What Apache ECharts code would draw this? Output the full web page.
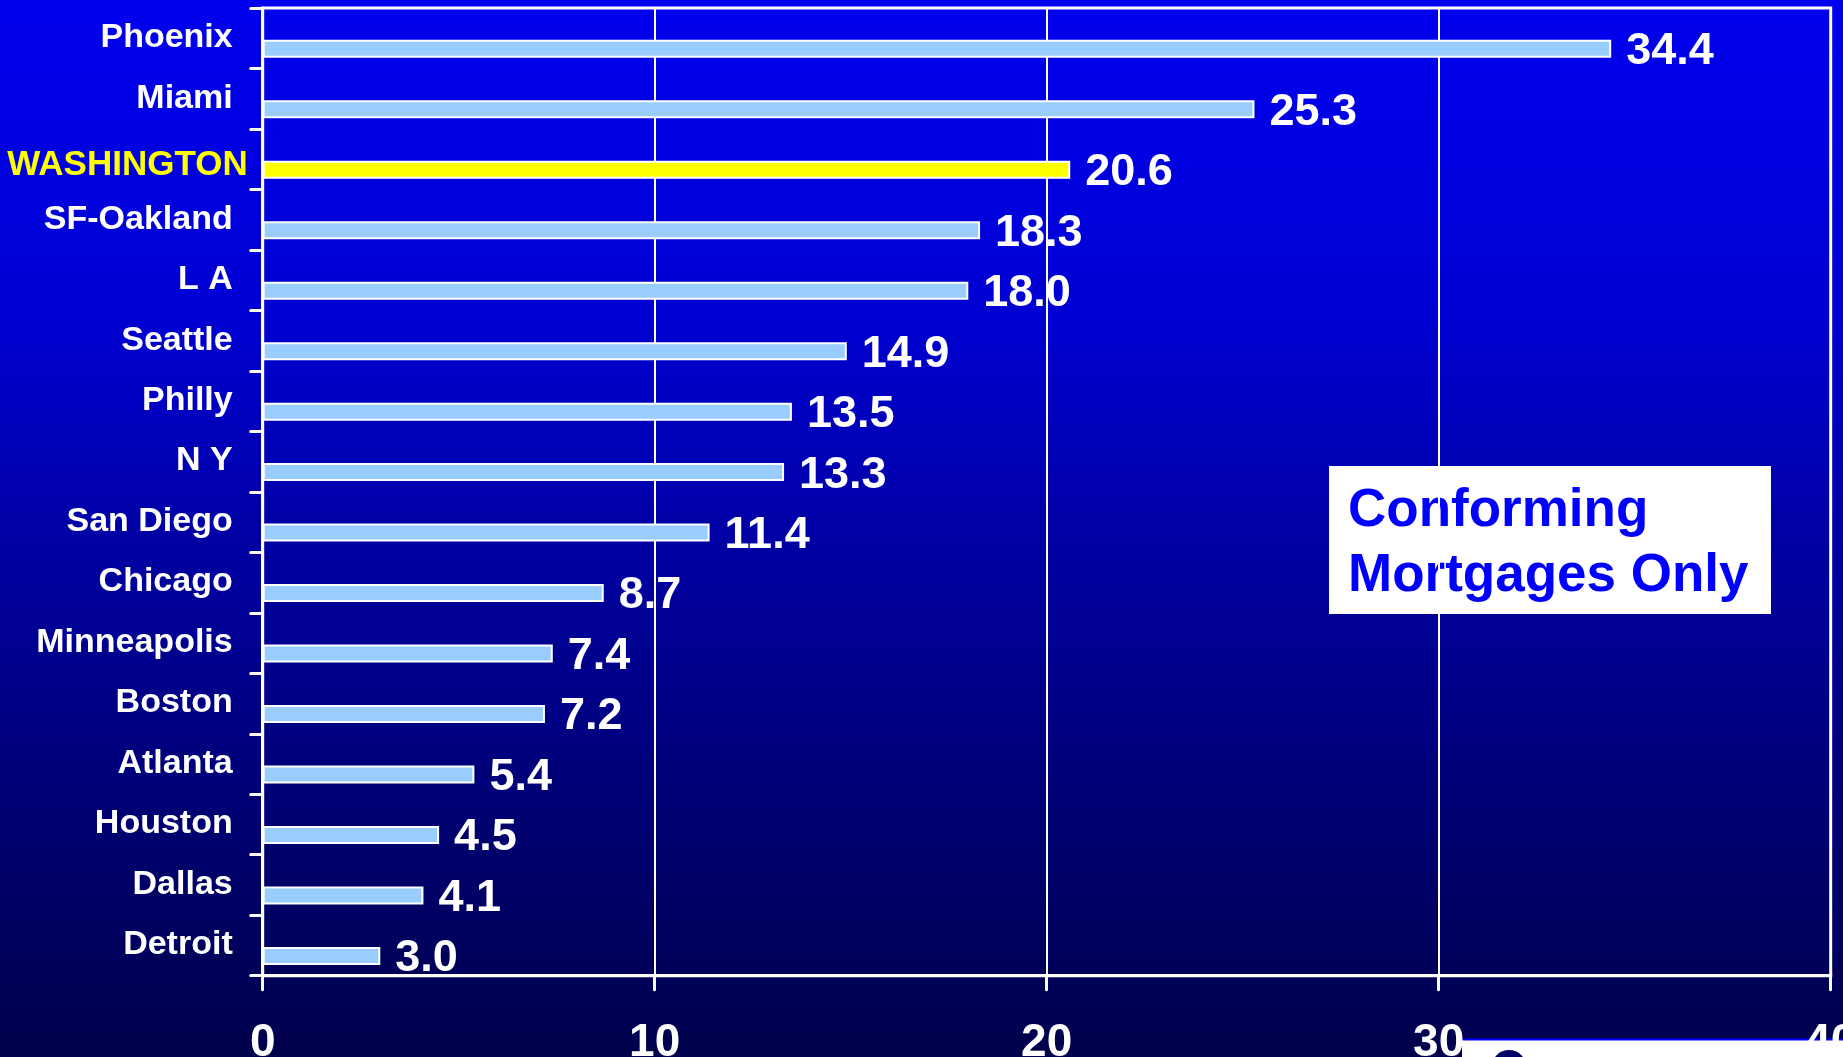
<!DOCTYPE html>
<html>
<head>
<meta charset="utf-8">
<title>Conforming Mortgages by Metro Area</title>
<script src="https://cdn.jsdelivr.net/npm/echarts@6/dist/echarts.min.js"></script>
<style>
  html, body { margin: 0; padding: 0; background: #000050; }
  #chart { width: 1843px; height: 1057px; }
</style>
</head>
<body>
<div id="chart"></div>
<script>
// Metro areas, top to bottom
const cities = ['Phoenix', 'Miami', 'WASHINGTON', 'SF-Oakland', 'L A', 'Seattle', 'Philly', 'N Y',
  'San Diego', 'Chicago', 'Minneapolis', 'Boston', 'Atlanta', 'Houston', 'Dallas', 'Detroit'];
// Value per metro area
const values = [34.4, 25.3, 20.6, 18.3, 18.0, 14.9, 13.5, 13.3, 11.4, 8.7, 7.4, 7.2, 5.4, 4.5, 4.1, 3.0];
// Value axis ticks
const xTicks = [0, 10, 20, 30, 40];
const highlightCity = 'WASHINGTON';
const noteText = 'Conforming\nMortgages Only';

const FONT = '"Liberation Sans", Arial, sans-serif';

const chart = echarts.init(document.getElementById('chart'), null, { renderer: 'canvas' });

const barData = cities.map((c, i) => ({
  value: values[i],
  itemStyle: { color: c === highlightCity ? '#FFFF00' : '#99CCFF' }
}));

const option = {
  animation: false,
  backgroundColor: new echarts.graphic.LinearGradient(0, 0, 0, 1, [
    { offset: 0, color: '#0000EE' },
    { offset: 0.3, color: '#0000D2' },
    { offset: 0.5, color: '#0000A6' },
    { offset: 0.75, color: '#000076' },
    { offset: 1, color: '#00004C' }
  ]),
  textStyle: { fontFamily: FONT },
  grid: {
    left: 262.7, right: 12.3, top: 8, bottom: 81.3,
    outerBoundsMode: 'none',
    containLabel: false,
    show: true, borderColor: '#FFFFFF', borderWidth: 3, backgroundColor: 'transparent'
  },
  xAxis: {
    type: 'value',
    min: xTicks[0], max: xTicks[xTicks.length - 1], interval: xTicks[1] - xTicks[0],
    axisLine: { show: true, lineStyle: { color: '#FFFFFF', width: 3 } },
    axisTick: { show: true, length: 14, lineStyle: { color: '#FFFFFF', width: 3, cap: 'round' } },
    splitLine: { show: true, lineStyle: { color: '#FFFFFF', width: 2 } },
    axisLabel: {
      color: '#FFFFFF', fontSize: 46, fontWeight: 'bold', fontFamily: FONT, margin: 45,
      showMaxLabel: true, showMinLabel: true, hideOverlap: false
    }
  },
  yAxis: {
    type: 'category',
    data: cities,
    inverse: true,
    axisLine: { show: true, lineStyle: { color: '#FFFFFF', width: 3 } },
    axisTick: { show: true, length: 12, alignWithLabel: false, lineStyle: { color: '#FFFFFF', width: 3, cap: 'round' } },
    splitLine: { show: false },
    axisLabel: {
      margin: 15,
      interval: 0,
      formatter: v => (v === highlightCity ? '{w|' + v + '}' : '{n|' + v + '}'),
      rich: {
        n: { color: '#FFFFFF', fontSize: 34, fontWeight: 'bold', fontFamily: FONT, padding: [0, 15, 1, 0] },
        w: { color: '#FFFF00', fontSize: 35, fontWeight: 'bold', fontFamily: FONT, padding: [13, 0, 0, 0] }
      }
    }
  },
  series: [
    {
      // empty slot above each bar so the bars sit in the lower part of each row
      name: 'spacer',
      type: 'bar',
      data: [],
      barWidth: 18,
      barGap: '16.67%',
      silent: true
    },
    {
      name: 'value',
      type: 'bar',
      data: barData,
      barWidth: 18,
      barGap: '16.67%',
      itemStyle: { borderColor: '#FFFFFF', borderWidth: 2 },
      label: {
        show: true,
        position: 'right',
        distance: 15,
        offset: [0, 3],
        color: '#FFFFFF',
        fontSize: 45,
        fontWeight: 'bold',
        fontFamily: FONT,
        formatter: p => p.value.toFixed(1)
      }
    }
  ],
  graphic: [
    {
      type: 'group',
      z: 100,
      children: [
        {
          type: 'rect',
          shape: { x: 1329, y: 466, width: 442, height: 148 },
          style: { fill: '#FFFFFF' }
        },
        {
          type: 'text',
          x: 1348, y: 478.5,
          style: {
            text: noteText,
            fill: '#0000FF',
            font: 'bold 53px ' + FONT,
            lineHeight: 65,
            align: 'left',
            verticalAlign: 'top'
          }
        }
      ]
    },
    {
      // slide footer strip at the lower right
      type: 'group',
      z: -1,
      children: [
        {
          type: 'rect',
          shape: { x: 1462, y: 1040, width: 400, height: 30 },
          style: { fill: '#FFFFFF' }
        },
        {
          type: 'line',
          shape: { x1: 1462, y1: 1039.5, x2: 1843, y2: 1039.5 },
          style: { stroke: '#0000FF', lineWidth: 2 }
        },
        {
          type: 'circle',
          shape: { cx: 1509, cy: 1067.5, r: 17.5 },
          style: { fill: '#000066' }
        }
      ]
    }
  ]
};

chart.setOption(option);
</script>
</body>
</html>
